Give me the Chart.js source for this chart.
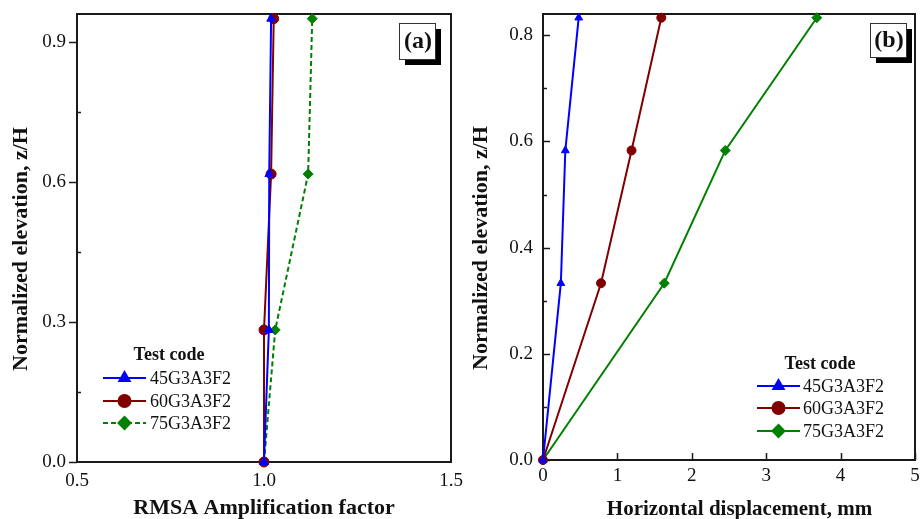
<!DOCTYPE html>
<html lang="en">
<head>
<meta charset="UTF-8">
<title>Normalized elevation profiles</title>
<script src="https://cdn.jsdelivr.net/npm/chart.js"></script>
<style>
    body { margin: 0; background: #fff; }
    #wrap { position: relative; width: 921px; height: 519px; overflow: hidden; }
    #chartA { position: absolute; left: 0; top: 0; z-index: 2; }
    #chartB { position: absolute; left: 460px; top: 0; z-index: 1; }
</style>
</head>
<body>
<div id="wrap">
    <canvas id="chartA" width="472" height="519"></canvas>
    <canvas id="chartB" width="461" height="519"></canvas>
</div>
<script>
// series names
const testCodes = ['45G3A3F2', '60G3A3F2', '75G3A3F2'];

// panel (a): RMSA amplification factor vs normalized elevation
const elevA = [0, 0.283, 0.617, 0.95];
const ampA45 = [1.0, 1.013, 1.014, 1.019];
const ampA60 = [1.0, 1.0, 1.019, 1.026];
const ampA75 = [1.0, 1.03, 1.118, 1.129];

// panel (b): horizontal displacement (mm) vs normalized elevation
const elevB = [0, 0.333, 0.583, 0.833];
const dispB45 = [0, 0.24, 0.30, 0.48];
const dispB60 = [0, 0.78, 1.19, 1.59];
const dispB75 = [0, 1.63, 2.45, 3.68];

// tick labels
const xTicksA = [0.5, 1.0, 1.5];
const yLabelStepA = 0.3;
const xTicksB = [0, 1, 2, 3, 4, 5];
const yLabelStepB = 0.2;

const SERIF = "'Liberation Serif', 'Times New Roman', serif";
Chart.defaults.font.family = SERIF;
Chart.defaults.color = '#111';

function pts(xs, ys) {
    return xs.map((x, i) => ({ x: x, y: ys[i] }));
}
function onStep(v, step) {
    const r = v / step;
    return Math.abs(r - Math.round(r)) < 1e-6;
}

// frame + custom tick marks
const frameTicks = {
    id: 'frameTicks',
    beforeDatasetsDraw(chart, args, opts) {
        const ctx = chart.ctx, a = chart.chartArea;
        ctx.save();
        ctx.strokeStyle = '#1a1a1a';
        ctx.lineWidth = 2;
        ctx.strokeRect(a.left, a.top, a.right - a.left, a.bottom - a.top);
        ctx.lineWidth = 1.5;
        ['x', 'y'].forEach(id => {
            const sc = chart.scales[id], o = opts[id];
            if (!o) return;
            sc.ticks.forEach((t, i) => {
                const len = t.label !== '' ? o.major : o.minor;
                if (!len) return;
                const p = Math.round(sc.getPixelForTick(i)) + 0.5;
                ctx.beginPath();
                if (id === 'x') {
                    ctx.moveTo(p, a.bottom);
                    ctx.lineTo(p, a.bottom - len);
                } else {
                    ctx.moveTo(a.left, p);
                    ctx.lineTo(a.left + len, p);
                }
                ctx.stroke();
            });
        });
        ctx.restore();
    }
};

// legend block and panel tag drawn at fixed spots
const legendTag = {
    id: 'legendTag',
    afterDraw(chart, args, opts) {
        const ctx = chart.ctx;
        const L = opts.legend;
        ctx.save();
        ctx.fillStyle = '#111';
        ctx.textBaseline = 'middle';
        ctx.textAlign = 'center';
        ctx.font = 'bold 18px ' + SERIF;
        ctx.fillText('Test code', L.titleX, L.titleY);
        ctx.textAlign = 'left';
        ctx.font = '18px ' + SERIF;
        chart.data.datasets.forEach((ds, i) => {
            const y = L.rowY[i];
            ctx.save();
            ctx.strokeStyle = ds.borderColor;
            ctx.lineWidth = 2;
            ctx.setLineDash(ds.borderDash || []);
            ctx.beginPath();
            ctx.moveTo(L.x0, y);
            ctx.lineTo(L.x1, y);
            ctx.stroke();
            ctx.setLineDash([]);
            ctx.fillStyle = ds.backgroundColor;
            ctx.strokeStyle = ds.borderColor;
            Chart.helpers.drawPoint(ctx, {
                pointStyle: ds.pointStyle, rotation: 0,
                radius: L.markerR, borderWidth: 1
            }, (L.x0 + L.x1) / 2, y);
            ctx.restore();
            ctx.fillStyle = '#111';
            ctx.fillText(ds.label, L.textX, y + 1);
        });
        // panel tag
        const T = opts.tag;
        ctx.fillStyle = '#000';
        ctx.fillRect(T.x + 6, T.y + 6, T.w, T.h);
        ctx.fillStyle = '#fff';
        ctx.fillRect(T.x, T.y, T.w, T.h);
        ctx.strokeStyle = '#333';
        ctx.lineWidth = 1;
        ctx.strokeRect(T.x + 0.5, T.y + 0.5, T.w, T.h);
        ctx.fillStyle = '#111';
        ctx.textAlign = 'center';
        ctx.font = 'bold 24px ' + SERIF;
        ctx.fillText(T.text, T.x + T.w / 2 + 1, T.y + T.h / 2 + 1);
        ctx.restore();
    }
};

function series(label, data, color, style, dash, r) {
    return {
        label: label, data: data, showLine: true,
        borderColor: color, backgroundColor: color, borderWidth: 2,
        borderDash: dash, pointStyle: style, pointRadius: r,
        pointHoverRadius: r, pointBorderWidth: 1, clip: false
    };
}

function axisTitle(text, pad, size) {
    return { display: true, text: text, font: { size: size || 22, weight: 'bold' }, padding: pad };
}

// pin the axis band sizes so the plot box sits where the reference has it
function fixX(h) {
    return s => { s.height = h; s.paddingLeft = 0; s.paddingRight = 0; };
}
function fixY(w) {
    return s => { s.width = w; s.paddingTop = 0; s.paddingBottom = 0; };
}

// the y titles sit a little below the middle of the plot in the original
const yTitle = 'Normalized elevation, z/H\u00a0\u00a0\u00a0\u00a0';
const xTitleB = '\u00a0\u00a0\u00a0\u00a0Horizontal displacement, mm';

new Chart(document.getElementById('chartA'), {
    type: 'scatter',
    data: {
        datasets: [
            series(testCodes[0], pts(ampA45, elevA), '#0000ff', 'triangle', [], 5),
            series(testCodes[1], pts(ampA60, elevA), '#800000', 'circle', [], 5),
            series(testCodes[2], pts(ampA75, elevA), '#008000', 'rectRot', [5, 3], 5)
        ]
    },
    options: {
        responsive: false, animation: false,
        layout: { padding: { top: 14, right: 21, left: 0, bottom: 0 } },
        plugins: {
            legend: { display: false }, tooltip: { enabled: false },
            frameTicks: { x: { major: 0, minor: 0 }, y: { major: -8, minor: 4 } },
            legendTag: {
                legend: { titleX: 169, titleY: 355, rowY: [378, 401, 423], x0: 103, x1: 146, textX: 150, markerR: 6 },
                tag: { x: 399, y: 23, w: 36, h: 36, text: '(a)' }
            }
        },
        scales: {
            x: {
                type: 'linear', min: xTicksA[0], max: xTicksA[xTicksA.length - 1],
                grid: { display: false, drawTicks: false }, border: { display: false },
                ticks: { stepSize: 0.5, padding: 8, font: { size: 19 }, maxRotation: 0,
                    callback: v => xTicksA.some(t => Math.abs(t - v) < 1e-6) ? v.toFixed(1) : '' },
                title: axisTitle('RMSA Amplification factor', { top: 0, bottom: -3 }),
                afterFit: fixX(57)
            },
            y: {
                type: 'linear', min: 0, max: 0.96,
                grid: { display: false, drawTicks: false }, border: { display: false },
                ticks: { stepSize: 0.15, includeBounds: false, padding: 11, font: { size: 19 },
                    callback: v => onStep(v, yLabelStepA) ? v.toFixed(1) : '' },
                title: axisTitle(yTitle, { top: 8, bottom: 0 }),
                afterFit: fixY(77)
            }
        }
    },
    plugins: [frameTicks, legendTag]
});

new Chart(document.getElementById('chartB'), {
    type: 'scatter',
    data: {
        datasets: [
            series(testCodes[0], pts(dispB45, elevB), '#0000ff', 'triangle', [], 4.5),
            series(testCodes[1], pts(dispB60, elevB), '#800000', 'circle', [], 4.5),
            series(testCodes[2], pts(dispB75, elevB), '#008000', 'rectRot', [], 5)
        ]
    },
    options: {
        responsive: false, animation: false,
        layout: { padding: { top: 14, right: 6, left: 0, bottom: 0 } },
        plugins: {
            legend: { display: false }, tooltip: { enabled: false },
            frameTicks: { x: { major: 7, minor: 0 }, y: { major: 7, minor: 4 } },
            legendTag: {
                legend: { titleX: 360, titleY: 364, rowY: [386, 408, 431], x0: 297, x1: 340, textX: 343, markerR: 6 },
                tag: { x: 410, y: 23, w: 36, h: 34, text: '(b)' }
            }
        },
        scales: {
            x: {
                type: 'linear', min: xTicksB[0], max: xTicksB[xTicksB.length - 1],
                grid: { display: false, drawTicks: false }, border: { display: false },
                ticks: { stepSize: 1, padding: 5, font: { size: 19 }, maxRotation: 0,
                    callback: v => xTicksB.includes(v) ? String(v) : '' },
                title: axisTitle(xTitleB, { top: 0, bottom: -3 }, 21),
                afterFit: fixX(59)
            },
            y: {
                type: 'linear', min: 0, max: 0.84,
                grid: { display: false, drawTicks: false }, border: { display: false },
                ticks: { stepSize: 0.1, includeBounds: false, padding: 10, font: { size: 19 },
                    callback: v => onStep(v, yLabelStepB) ? v.toFixed(1) : '' },
                title: axisTitle(yTitle, { top: 8, bottom: 0 }),
                afterFit: fixY(83)
            }
        }
    },
    plugins: [frameTicks, legendTag]
});
</script>
</body>
</html>
